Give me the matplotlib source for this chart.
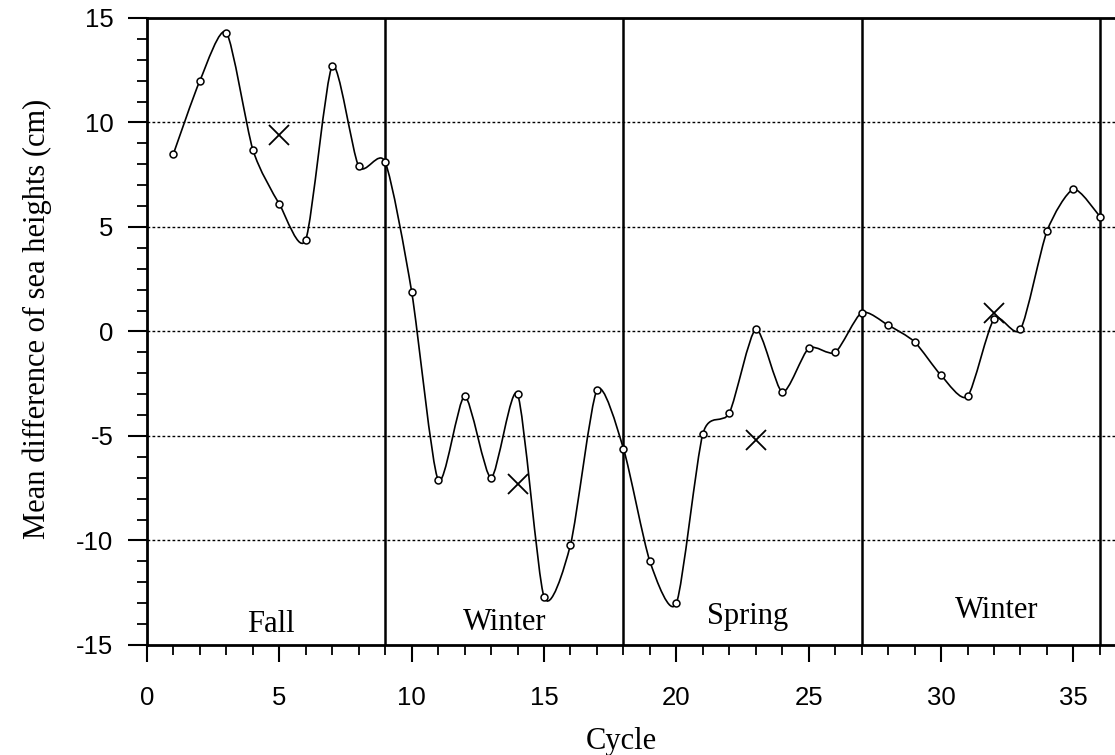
import numpy as np
import matplotlib
matplotlib.use('Agg')
import matplotlib.pyplot as plt
from matplotlib.path import Path
from matplotlib.patches import PathPatch
from matplotlib.ticker import MultipleLocator

# mean difference of sea heights per cycle
cycles = list(range(1, 37))
heights = [8.5, 12.0, 14.3, 8.7, 6.1, 4.4, 12.7, 7.9, 8.1, 1.9,
           -7.1, -3.1, -7.0, -3.0, -12.7, -10.2, -2.8, -5.6, -11.0, -13.0,
           -4.9, -3.9, 0.1, -2.9, -0.8, -1.0, 0.9, 0.3, -0.5, -2.1,
           -3.1, 0.6, 0.1, 4.8, 6.8, 5.5]

# the crosses
cross_cycles = [5, 14, 23, 32]
cross_heights = [9.4, -7.3, -5.2, 0.9]

# season boundaries and names
season_ends = [9, 18, 27, 36]
season_names = ['Fall', 'Winter', 'Spring', 'Winter']

serif = 'Liberation Serif'
sans = 'Liberation Sans'

fig = plt.figure(figsize=(11.15, 7.55), dpi=100)
ax = fig.add_axes([0.1318, 0.1457, 0.8682, 0.8305])

# smoothed curve through the points (bezier segments, low tension)
k = 0.12
pts = np.column_stack([cycles, heights]).astype(float)
ext = np.vstack([pts[0], pts, pts[-1]])
verts = [tuple(pts[0])]
codes = [Path.MOVETO]
for i in range(1, len(ext) - 2):
    p0, p1, p2, p3 = ext[i - 1], ext[i], ext[i + 1], ext[i + 2]
    c1 = p1 + (p2 - p0) * k
    c2 = p2 - (p3 - p1) * k
    verts += [tuple(c1), tuple(c2), tuple(p2)]
    codes += [Path.CURVE4] * 3
ax.add_patch(PathPatch(Path(verts, codes), facecolor='none', edgecolor='black', lw=1.2, zorder=3))

ax.plot(cycles, heights, 'o', ms=5, mfc='white', mec='black', mew=1.1, zorder=4)
ax.plot(cross_cycles, cross_heights, 'x', ms=14, mec='black', mew=1.3, zorder=5)

# dotted grid lines
for yv in [-10, -5, 0, 5, 10]:
    ax.axhline(yv, color='black', lw=1.0, ls=(0, (2, 1.6)), zorder=1)

# season separators
for xv in season_ends:
    ax.axvline(xv, color='black', lw=1.8, zorder=2)

# season names
label_x = [4.7, 13.5, 22.7, 32.1]
label_y = [-14.4, -14.3, -14.0, -13.7]
for name, lx, ly in zip(season_names, label_x, label_y):
    ax.text(lx, ly, name, ha='center', va='baseline', fontsize=22, family=serif)

ax.set_xlim(0, 36.57)
ax.set_ylim(-15, 15)
ax.xaxis.set_minor_locator(MultipleLocator(1))
ax.yaxis.set_major_locator(MultipleLocator(5))
ax.yaxis.set_minor_locator(MultipleLocator(1))
ax.set_xticks(range(0, 36, 5))
ax.tick_params(which='major', direction='out', length=14, width=1.5, labelsize=18.5, pad=10)
ax.tick_params(which='minor', direction='out', length=7, width=1.3)
ax.tick_params(axis='x', which='major', length=12.5, pad=17)
for lab in ax.get_xticklabels() + ax.get_yticklabels():
    lab.set_family(sans)
ax.yaxis.set_major_formatter(matplotlib.ticker.FuncFormatter(lambda v, p: '%d' % v))

for s in ['left', 'bottom', 'top']:
    ax.spines[s].set_linewidth(2)
ax.spines['right'].set_visible(False)

ax.set_xlabel('Cycle', fontsize=22, family=serif)
ax.set_ylabel('Mean difference of sea heights (cm)', fontsize=22, family=serif)
ax.xaxis.set_label_coords(0.49, -0.13)
ax.yaxis.set_label_coords(-0.098, 0.52)

fig.savefig('out.png', dpi=100)
